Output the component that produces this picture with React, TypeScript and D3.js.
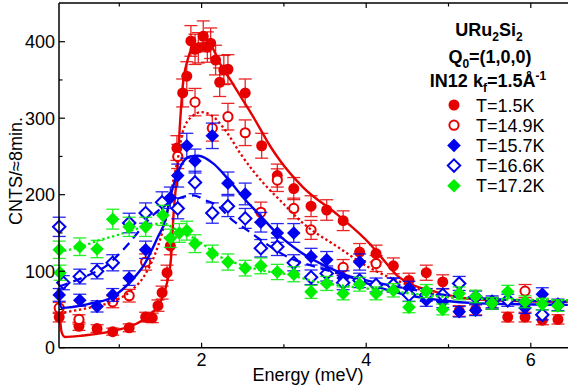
import React from 'react';
import * as d3 from 'd3';

// ---- data (energy in meV, counts per ~8 min) ----
const e15 = [0.27,0.51,0.73,0.92,1.12,1.32,1.40,1.47,1.52,1.58,1.62,1.70,1.77,1.82,1.87,1.92,1.96,2.02,2.07,2.11,2.17,2.22,2.27,2.32,2.53,2.73,2.92,3.12,3.33,3.52,3.72,3.92,4.12,4.33,4.52,4.73,4.93,5.13,5.33,5.53,5.72,5.93,6.14,6.33];
const v15 = [40,28,25,21,26,40,39,55,72,98,133,261,333,355,401,390,392,407,393,398,376,347,363,364,333,264,225,208,185,180,166,125,123,107,88,98,86,48,50,58,40,40,36,37];

const e149 = [0.27,0.51,0.92,1.12,1.32,1.71,1.92,2.13,2.32,2.53,2.72,2.92,3.12,3.33,3.72,4.12,5.93];
const v149 = [52,37,60,68,112,250,321,287,302,281,177,219,182,154,105,110,74];

const e157 = [0.27,0.52,0.73,0.92,1.12,1.32,1.62,1.71,1.82,1.92,2.13,2.32,2.53,2.72,2.92,3.12,3.33,3.52,3.72,3.92,4.33,4.52,4.73,4.93,5.13,5.33,5.53,5.93,6.14];
const v157 = [69,62,54,69,91,128,196,225,264,244,277,215,201,164,150,150,119,115,91,112,82,78,62,60,47,49,58,52,70];

const e166 = [0.27,0.32,0.52,0.73,0.92,1.12,1.32,1.52,1.71,1.92,2.13,2.32,2.53,2.72,2.92,3.12,3.33,3.52,3.72,3.92,4.12,4.33,4.52,4.73,4.93,5.13,5.33,5.53,5.72,6.14,6.33];
const v166 = [158,85,93,100,111,163,176,190,182,216,176,185,169,130,132,111,92,97,85,88,82,82,69,69,69,84,66,60,62,43,56];

const e172 = [0.27,0.28,0.52,0.73,0.92,1.12,1.32,1.53,1.62,1.73,1.82,1.92,2.13,2.32,2.53,2.72,2.92,3.12,3.33,3.52,3.72,3.92,4.12,4.33,4.52,4.73,4.93,5.13,5.33,5.53,5.72,5.93,6.14,6.33];
const v172 = [128,98,132,129,168,158,158,173,143,150,153,136,123,112,104,107,99,96,73,84,71,83,71,75,53,74,50,71,67,58,73,60,57,55];

// ---- fitted curves ----
const fit15E = [0.27,0.30,0.34,0.56,0.97,1.22,1.37,1.49,1.58,1.63,1.66,1.70,1.74,1.77,1.83,1.92,2.02,2.13,2.22,2.35,2.50,2.67,2.83,2.95,3.23,3.65,4.05,4.17,4.37,4.57,4.78,4.98,5.18,5.38,5.87,6.45];
const fit15V = [50,20,14,16,23,32,43,58,85,119,176,225,297,341,376,396,398,392,372,350,324,294,264,245,210,174,135,120,95,82,75,69,65,63,61,60];

const fit149E = [0.27,0.62,0.91,1.15,1.31,1.43,1.52,1.59,1.65,1.72,1.77,1.88,2.00,2.14,2.31,2.47,2.62,2.83,2.95,3.23,3.65,4.05,4.37,5.02,5.63,6.45];
const fit149V = [45,52,60,75,95,121,150,180,215,252,282,302,308,302,281,254,232,206,193,163,132,104,88,66,63,62];

const fit157E = [0.27,0.30,0.62,0.91,1.15,1.31,1.47,1.56,1.62,1.74,1.86,1.96,2.14,2.31,2.50,2.71,2.92,3.20,3.60,4.01,4.41,4.90,5.38,6.45];
const fit157V = [62,52,57,66,88,110,145,167,197,236,250,251,241,222,197,173,149,125,102,84,71,62,58,56];

const fit166E = [0.27,0.52,0.73,0.83,1.01,1.13,1.25,1.37,1.56,1.74,1.90,2.04,2.19,2.37,2.55,2.69,3.04,3.44,3.92,4.41,5.02,5.63,6.45];
const fit166V = [80,90,100,106,124,138,154,169,186,196,199,193,186,167,154,143,119,104,90,79,68,63,60];

const fit172E = [0.27,0.56,0.77,0.97,1.17,1.37,1.53,1.68,1.86,2.02,2.22,2.43,2.62,2.83,2.99,3.40,3.80,4.20,5.02,5.63,6.45];
const fit172V = [125,133,141,147,154,160,163,155,146,135,119,110,104,99,97,86,80,75,66,63,62];

const xMajor = [2, 4, 6];
const xMinor = [1, 3, 5];
const yMajor = [0, 100, 200, 300, 400];
const yMinor = [50, 150, 250, 350];
const legendLabels = ['T=1.5K', 'T=14.9K', 'T=15.7K', 'T=16.6K', 'T=17.2K'];

const RED = '#e60000';
const BLUE = '#0000f0';
const GREEN = '#00ee00';
const FONT = 'Liberation Sans, Arial, Helvetica, sans-serif';

type Shape = 'circle' | 'diamond';
interface Series { e: number[]; v: number[]; fe: number[]; fv: number[]; color: string; shape: Shape; filled: boolean; dash: string | null; label: string; }

const series: Series[] = [
  { e: e15, v: v15, fe: fit15E, fv: fit15V, color: RED, shape: 'circle', filled: true, dash: null, label: legendLabels[0] },
  { e: e149, v: v149, fe: fit149E, fv: fit149V, color: RED, shape: 'circle', filled: false, dash: '2.4,2.6', label: legendLabels[1] },
  { e: e157, v: v157, fe: fit157E, fv: fit157V, color: BLUE, shape: 'diamond', filled: true, dash: null, label: legendLabels[2] },
  { e: e166, v: v166, fe: fit166E, fv: fit166V, color: BLUE, shape: 'diamond', filled: false, dash: '9,6', label: legendLabels[3] },
  { e: e172, v: v172, fe: fit172E, fv: fit172V, color: GREEN, shape: 'diamond', filled: true, dash: '2.4,2.6', label: legendLabels[4] },
];

const W = 568, H = 389;
const X0 = 59, YTOP = 3;
const x = d3.scaleLinear().domain([0, 6]).range([37, 530.8]);
const y = d3.scaleLinear().domain([0, 400]).range([347.7, 41.7]);
const YB = y(0);

function Marker({ cx, cy, s }: { cx: number; cy: number; s: Series }) {
  if (s.shape === 'circle') {
    return s.filled
      ? <circle cx={cx} cy={cy} r={5.5} fill={s.color} />
      : <circle cx={cx} cy={cy} r={4.6} fill="white" stroke={s.color} strokeWidth={2} />;
  }
  const r = s.filled ? 6.8 : 6.2;
  const d = `M${cx},${cy - r}L${cx + r},${cy}L${cx},${cy + r}L${cx - r},${cy}Z`;
  return s.filled
    ? <path d={d} fill={s.color} />
    : <path d={d} fill="white" stroke={s.color} strokeWidth={2} />;
}

export default function App() {
  const line = d3.line<[number, number]>().x(d => x(d[0])).y(d => y(d[1])).curve(d3.curveMonotoneX);
  return (
    <svg width={W} height={H} style={{ position: 'absolute', left: 0, top: 0, background: 'white' }} fontFamily={FONT}>
      {series.map((s, si) => {
        const pts = s.e.map((e, i) => [e, s.v[i]] as [number, number]);
        const fit = s.fe.map((e, i) => [e, s.fv[i]] as [number, number]);
        return (
          <g key={si}>
            {pts.map(([e, v], i) => {
              const err = Math.sqrt(v);
              const cx = x(e);
              const y1 = y(v + err), y2 = y(v - err);
              return (
                <g key={i} stroke={s.color} strokeWidth={1.3} opacity={0.85}>
                  <line x1={cx} x2={cx} y1={y1} y2={y2} />
                  <line x1={cx - 6.5} x2={cx + 6.5} y1={y1} y2={y1} />
                  <line x1={cx - 6.5} x2={cx + 6.5} y1={y2} y2={y2} />
                </g>
              );
            })}
            {pts.map(([e, v], i) => <Marker key={'m' + i} cx={x(e)} cy={y(v)} s={s} />)}
            <path d={line(fit) || ''} fill="none" stroke={s.color} strokeWidth={s.dash ? 2.3 : 2.4}
              strokeDasharray={s.dash || undefined} />
          </g>
        );
      })}

      {/* frame */}
      <g stroke="black" strokeWidth={1.5} fill="none">
        <line x1={X0} x2={X0} y1={YTOP} y2={YB} />
        <line x1={X0} x2={W} y1={YB} y2={YB} />
        <line x1={X0} x2={W} y1={YTOP} y2={YTOP} />
      </g>
      <g stroke="black" strokeWidth={1.2}>
        {xMajor.map(t => <g key={'xM' + t}>
          <line x1={x(t)} x2={x(t)} y1={YB} y2={YB - 5} />
          <line x1={x(t)} x2={x(t)} y1={YTOP} y2={YTOP + 5} />
        </g>)}
        {xMinor.map(t => <g key={'xm' + t}>
          <line x1={x(t)} x2={x(t)} y1={YB} y2={YB - 3.5} />
          <line x1={x(t)} x2={x(t)} y1={YTOP} y2={YTOP + 3.5} />
        </g>)}
        {yMajor.map(t => <line key={'yM' + t} x1={X0} x2={X0 + 6} y1={y(t)} y2={y(t)} />)}
        {yMinor.map(t => <line key={'ym' + t} x1={X0} x2={X0 + 3.5} y1={y(t)} y2={y(t)} />)}
      </g>
      <g fontSize={18} fill="black">
        {xMajor.map(t => <text key={'xl' + t} x={x(t)} y={366} textAnchor="middle">{t}</text>)}
        {yMajor.map(t => <text key={'yl' + t} x={55} y={y(t) + 6.5} textAnchor="end">{t}</text>)}
        <text x={308} y={381} textAnchor="middle">Energy (meV)</text>
        <text transform="translate(22,171) rotate(-90)" textAnchor="middle">CNTS/≈8min.</text>
      </g>

      {/* legend */}
      <g fontSize={18} fontWeight="bold" fill="black" textAnchor="middle">
        <text x={489} y={36}>URu<tspan fontSize={12} dy={5}>2</tspan><tspan dy={-5}>Si</tspan><tspan fontSize={12} dy={5}>2</tspan></text>
        <text x={490} y={63}>Q<tspan fontSize={12} dy={5}>0</tspan><tspan dy={-5}>=(1,0,0)</tspan></text>
        <text x={488} y={87}>IN12 k<tspan fontSize={12} dy={5}>f</tspan><tspan dy={-5}>=1.5Å</tspan><tspan fontSize={12} dy={-7}>-1</tspan></text>
      </g>
      <g fontSize={18} fill="black">
        {series.map((s, i) => {
          const cy = 105 + i * 20.2;
          return (
            <g key={'lg' + i}>
              <Marker cx={454} cy={cy} s={s} />
              <text x={476} y={cy + 6.5}>{s.label}</text>
            </g>
          );
        })}
      </g>
    </svg>
  );
}
